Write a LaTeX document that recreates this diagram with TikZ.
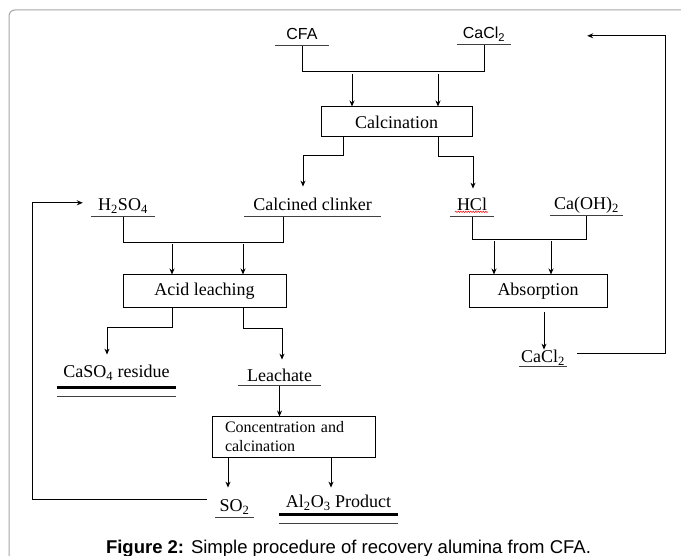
\documentclass[tikz,border=0pt]{standalone}
\usepackage{fontspec}
\setmainfont{Liberation Serif}
\setsansfont{Liberation Sans}
\usetikzlibrary{arrows.meta,decorations.pathmorphing}

\begin{document}
\begin{tikzpicture}[x=1pt, y=-1pt,
	box/.style={draw, line width=1pt, inner sep=0pt, font=\fontsize{18pt}{20pt}\selectfont},
	feed/.style={anchor=south, inner xsep=0pt, inner ysep=6pt, text height=12pt, text depth=0pt, font=\fontsize{18pt}{20pt}\selectfont},
	sansfeed/.style={feed, font=\sffamily\fontsize{16pt}{18pt}\selectfont},
	uline/.style={line width=1pt, black!75},
	wire/.style={line width=1pt},
	arr/.style={line width=1pt, -{Stealth[length=6pt, width=5pt]}},
	spell/.style={red, line width=0.5pt, decorate, decoration={snake, amplitude=0.7pt, segment length=2.5pt}}]
	\useasboundingbox (0,0) rectangle (681,556);
	% Frame and caption:
	\draw[gray!70, line width=1pt, rounded corners=6pt] (9,556) -- (9,10) -- (681,10);
	\node[font=\sffamily\fontsize{18.5pt}{20pt}\selectfont, anchor=base] (caption) at (348.5,553) {\textbf{Figure 2:} Simple procedure of recovery alumina from CFA.};
	% Process boxes:
	\node[box, minimum width=151pt, minimum height=30pt] (calc) at (396.5,122) {Calcination};
	\node[box, minimum width=163pt, minimum height=33pt] (acid) at (204.5,291.5) {Acid leaching};
	\node[box, minimum width=138pt, minimum height=33pt] (absorb) at (538,291.5) {Absorption};
	\node[box, minimum height=40pt, inner xsep=13pt, text width=137pt, align=left, font=\fontsize{16pt}{19pt}\selectfont] (conc) at (293.5,437) {Concentration and\\calcination};
	% Streams:
	\node[sansfeed, minimum width=54pt] (cfa) at (302,46) {CFA};
	\node[sansfeed, minimum width=54pt] (cacla) at (484,45) {CaCl\textsubscript{2}};
	\node[feed, minimum width=64pt] (hso) at (123,217) {H\textsubscript{2}SO\textsubscript{4}};
	\node[feed, minimum width=137pt] (clinker) at (312.5,217) {Calcined clinker};
	\node[feed, minimum width=44pt] (hcl) at (472,217) {HCl};
	\node[feed, minimum width=73pt] (caoh) at (586.5,216) {Ca(OH)\textsubscript{2}};
	\node[feed, minimum width=48pt, inner ysep=4pt] (caclb) at (543,367) {CaCl\textsubscript{2}};
	\node[feed, minimum width=119pt, inner ysep=10pt] (caso) at (116.5,388) {CaSO\textsubscript{4} residue};
	\node[feed, minimum width=83pt, inner ysep=4pt] (leach) at (279.5,386) {Leachate};
	\node[feed, minimum width=39pt, inner ysep=5pt] (so) at (234.5,517) {SO\textsubscript{2}};
	\node[feed, minimum width=119pt] (alo) at (338.5,514) {Al\textsubscript{2}O\textsubscript{3} Product};
	% Underlines:
	\draw[uline] (cfa.south west) -- (cfa.south east);
	\draw[uline] (cacla.south west) -- (cacla.south east);
	\draw[uline] (hso.south west) -- (hso.south east);
	\draw[uline] (clinker.south west) -- (clinker.south east);
	\draw[uline] (hcl.south west) -- (hcl.south east);
	\draw[uline] (caoh.south west) -- (caoh.south east);
	\draw[uline] (caclb.south west) -- (caclb.south east);
	\draw[uline] (leach.south west) -- (leach.south east);
	\draw[uline] (so.south west) -- (so.south east);
	\draw[line width=3pt] (caso.south west) -- (caso.south east);
	\draw[uline] ([yshift=-9pt]caso.south west) -- ([yshift=-9pt]caso.south east);
	\draw[line width=3pt] (alo.south west) -- (alo.south east);
	\draw[uline] ([yshift=-9pt]alo.south west) -- ([yshift=-9pt]alo.south east);
	\draw[spell] ([xshift=-17pt,yshift=-1pt]hcl.base) -- ([xshift=16pt,yshift=-1pt]hcl.base);
	% Calcination:
	\draw[wire] (cfa.south) -- ++(0,26) -| (cacla.south);
	\draw[arr] ([xshift=-44.5pt,yshift=32pt]calc.north) -- ([xshift=-44.5pt]calc.north);
	\draw[arr] ([xshift=41.5pt,yshift=32pt]calc.north) -- ([xshift=41.5pt]calc.north);
	\draw[arr] ([xshift=-53.5pt]calc.south) -- ++(0,18) -| ([xshift=-9.5pt,yshift=6pt]clinker.north);
	\draw[arr] ([xshift=41.5pt]calc.south) -- ++(0,19) -| ([xshift=1pt,yshift=4pt]hcl.north);
	% Acid leaching:
	\draw[wire] (hso.south) -- ++(0,26) -| ([xshift=-29.5pt]clinker.south);
	\draw[arr] ([xshift=-32.5pt,yshift=30pt]acid.north) -- ([xshift=-32.5pt]acid.north);
	\draw[arr] ([xshift=38.5pt,yshift=30pt]acid.north) -- ([xshift=38.5pt]acid.north);
	\draw[arr] ([xshift=-32.5pt]acid.south) -- ++(0,19) -| ([xshift=-9.5pt,yshift=1pt]caso.north);
	\draw[arr] ([xshift=38.5pt]acid.south) -- ++(0,20) -| ([xshift=2.5pt,yshift=6pt]leach.north);
	\draw[arr] (leach.south) -- (leach.south |- conc.north);
	% Concentration and calcination:
	\draw[arr] ([xshift=-65.5pt]conc.south) -- ([xshift=-65.5pt,yshift=7pt]conc.south |- so.north);
	\draw[arr] ([xshift=37.5pt]conc.south) -- ([xshift=37.5pt,yshift=2pt]conc.south |- alo.north);
	\draw[arr] ([xshift=-8pt,yshift=6pt]so.west) -- ++(-174,0) |- ([xshift=-8pt,yshift=2pt]hso.west);
	% Absorption:
	\draw[wire] (hcl.south) -- ++(0,23) -| (caoh.south);
	\draw[arr] ([xshift=-44pt,yshift=33pt]absorb.north) -- ([xshift=-44pt]absorb.north);
	\draw[arr] ([xshift=13pt,yshift=33pt]absorb.north) -- ([xshift=13pt]absorb.north);
	\draw[arr] ([xshift=6pt,yshift=-4pt]absorb.south) -- ([xshift=6pt,yshift=-3pt]absorb.south |- caclb.north);
	\draw[arr] ([xshift=10pt,yshift=3pt]caclb.east) -- ++(88,0) |- ([xshift=76pt,yshift=-3pt]cacla.east);
\end{tikzpicture}
\end{document}
